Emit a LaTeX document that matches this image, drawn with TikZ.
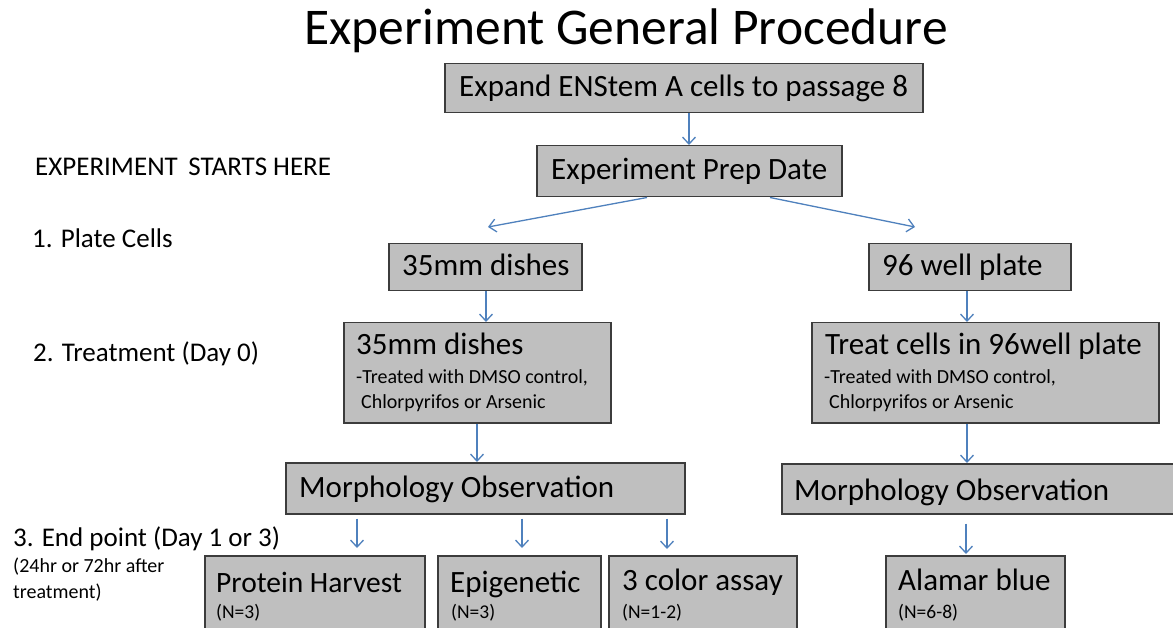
\documentclass[tikz,border=0pt]{standalone}
\usepackage{fontspec}
\setmainfont{Carlito}
\usetikzlibrary{arrows.meta,calc}
\definecolor{boxfill}{RGB}{191,191,191}
\definecolor{boxline}{RGB}{60,60,60}
\definecolor{arrowblue}{RGB}{79,129,189}
\begin{document}
\begin{tikzpicture}[x=1pt,y=-1pt,
  box/.style={draw=boxline, fill=boxfill, line width=1.5pt, inner sep=0pt, anchor=north west},
  wh/.style 2 args={minimum width=#1pt, minimum height=#2pt},
  arr/.style={draw=arrowblue, line width=1.3pt, -{Straight Barb[length=7pt,width=13pt,line width=1.3pt]}},
  title/.style={font=\fontsize{51.5}{60}\selectfont, anchor=base, inner sep=0pt},
  big/.style={font=\fontsize{31}{37}\selectfont, anchor=base west, inner sep=0pt},
  lab/.style={font=\fontsize{27}{32}\selectfont, anchor=base west, inner sep=0pt},
  sub/.style={font=\fontsize{20}{24}\selectfont, anchor=base west, inner sep=0pt},
  nn/.style={font=\fontsize{19.5}{22}\selectfont, anchor=base west, inner sep=0pt},
]
\useasboundingbox (0,0) rectangle (1173,628);
\clip (0,0) rectangle (1173,628);
\fill[white] (0,0) rectangle (1173,628);

% title
\node[title] (ttl) at (626,45) {Experiment General Procedure};

% boxes
\node[box, wh={478}{49}] (expand) at (444,63) {};
\node[box, wh={305}{51}] (prep) at (536,145) {};
\node[box, wh={193}{47}] (d35) at (388,243) {};
\node[box, wh={202}{47}] (w96) at (868,243) {};
\node[box, wh={267}{100}] (t35) at (343,322) {};
\node[box, wh={347}{100}] (t96) at (811,322) {};
\node[box, wh={399}{51}] (mL) at (285,462) {};
\node[box, wh={400}{50}] (mR) at (781,463) {};
\node[box, wh={220}{90}] (prot) at (204,555) {};
\node[box, wh={163}{90}] (epi) at (437,555) {};
\node[box, wh={188}{90}] (col3) at (608,555) {};
\node[box, wh={179}{90}] (alam) at (885,555) {};

% box texts
\node[big] (expandT) at (459,97) {Expand ENStem A cells to passage 8};
\node[big] (prepT) at (551,180) {Experiment Prep Date};
\node[big] (d35T) at (402,276) {35mm dishes};
\node[big] (w96T) at (882,276) {96 well plate};
\node[big] (t35T) at (356,355) {35mm dishes};
\node[sub] (t35S1) at (356,384) {-Treated with DMSO control,};
\node[sub] (t35S2) at (361,408) {Chlorpyrifos or Arsenic};
\node[big] (t96T) at (825,355) {Treat cells in 96well plate};
\node[sub] (t96S1) at (824,384) {-Treated with DMSO control,};
\node[sub] (t96S2) at (829,408) {Chlorpyrifos or Arsenic};
\node[big] (mLT) at (299,497) {Morphology Observation};
\node[big] (mRT) at (794,500) {Morphology Observation};
\node[big, font=\fontsize{29.5}{35}\selectfont] (protT) at (216,592) {Protein Harvest};
\node[nn] (protN) at (216,618) {(N=3)};
\node[big] (epiT) at (450,592) {Epigenetic};
\node[nn] (epiN) at (451,618) {(N=3)};
\node[big] (col3T) at (622,590) {3 color assay};
\node[nn] (col3N) at (622,618) {(N=1-2)};
\node[big] (alamT) at (898,590) {Alamar blue};
\node[nn] (alamN) at (898,618) {(N=6-8)};

% left labels
\node[lab] (l0) at (35,176) {EXPERIMENT\, STARTS HERE};
\node[lab] (l1) at (32,248) {1. Plate Cells};
\node[lab] (l2) at (33,362) {2. Treatment (Day 0)};
\node[lab] (l3) at (13,546) {3. End point (Day 1 or 3)};
\node[sub] (l3a) at (13,572) {(24hr or 72hr after};
\node[sub] (l3b) at (13,598) {treatment)};

% arrows
\draw[arr] ([xshift=245pt]expand.south west) -- ([xshift=153pt]prep.north west);
\draw[arr] ([xshift=111pt]prep.south west) -- ([xshift=100pt,yshift=16pt]d35.north west);
\draw[arr] ([xshift=234pt]prep.south west) -- ([xshift=47pt,yshift=16pt]w96.north west);
\draw[arr] ([xshift=98pt]d35.south west) -- ([xshift=143pt]t35.north west);
\draw[arr] ([xshift=99pt]w96.south west) -- ([xshift=156pt]t96.north west);
\draw[arr] ([xshift=134pt]t35.south west) -- ([xshift=192pt]mL.north west);
\draw[arr] ([xshift=156pt]t96.south west) -- ([xshift=186pt]mR.north west);
\draw[arr] ([xshift=72pt,yshift=-4pt]mL.south west) -- ([xshift=153pt,yshift=7pt]prot.north west);
\draw[arr] ([xshift=237pt,yshift=-4pt]mL.south west) -- ([xshift=85pt,yshift=7pt]epi.north west);
\draw[arr] ([xshift=382pt,yshift=-4pt]mL.south west) -- ([xshift=59pt,yshift=6pt]col3.north west);
\draw[arr] ([xshift=185pt,yshift=-9pt]mR.south west) -- ([xshift=81pt,yshift=1pt]alam.north west);
\end{tikzpicture}
\end{document}
